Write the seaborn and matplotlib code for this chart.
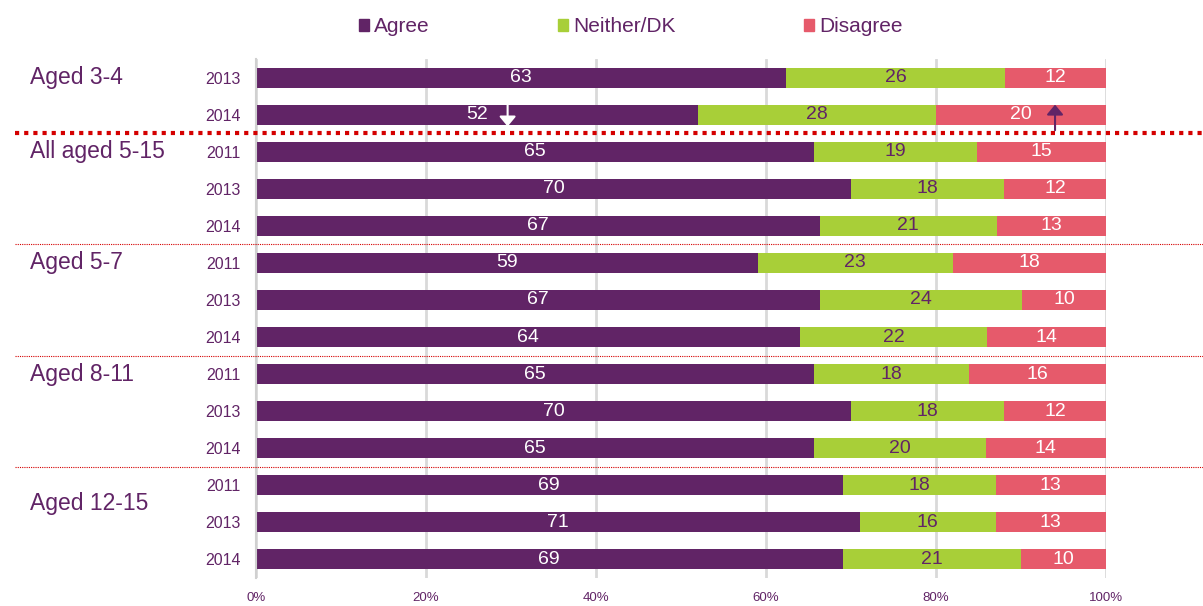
import numpy as np
import pandas as pd
import matplotlib
matplotlib.use("Agg")
from matplotlib import pyplot as plt
from matplotlib.patches import Rectangle
from matplotlib.ticker import FixedLocator
import seaborn as sns

sns.set_style("white")
plt.rcParams['font.family'] = ['Liberation Sans', 'DejaVu Sans']

PURPLE = '#612466'
GREEN = '#a8cf38'
PINK = '#e65a6b'

# data (top to bottom)
years = ['2013', '2014', '2011', '2013', '2014', '2011', '2013', '2014',
         '2011', '2013', '2014', '2011', '2013', '2014']
agree = [63, 52, 65, 70, 67, 59, 67, 64, 65, 70, 65, 69, 71, 69]
neither = [26, 28, 19, 18, 21, 23, 24, 22, 18, 18, 20, 18, 16, 21]
disagree = [12, 20, 15, 12, 13, 18, 10, 14, 16, 12, 14, 13, 13, 10]
groups = ['Aged 3-4', 'All aged 5-15', 'Aged 5-7', 'Aged 8-11', 'Aged 12-15']
group_pos = [0, 2, 5, 8, 11.5]
sep_thick = [1.5]
sep_thin = [4.5, 7.5, 10.5]
legend_labels = ['Agree', 'Neither/DK', 'Disagree']
legend_colors = [PURPLE, GREEN, PINK]

rows = [str(i) for i in range(len(years))]
a = np.array(agree, dtype=float)
n = np.array(neither, dtype=float)
d = np.array(disagree, dtype=float)
tot = a + n + d
df = pd.DataFrame({
    'row': rows,
    'agree_end': a / tot * 100,
    'neither_end': (a + n) / tot * 100,
    'total': tot / tot * 100,
})

fig = plt.figure(figsize=(12.03, 6.06), dpi=100)
ax = fig.add_axes([0.2128, 0.0462, 0.7066, 0.8564])

bw = 0.54
sns.barplot(data=df, x='total', y='row', order=rows, color=PINK, saturation=1,
            width=bw, ax=ax, orient='h', linewidth=0, zorder=2)
sns.barplot(data=df, x='neither_end', y='row', order=rows, color=GREEN, saturation=1,
            width=bw, ax=ax, orient='h', linewidth=0, zorder=2)
sns.barplot(data=df, x='agree_end', y='row', order=rows, color=PURPLE, saturation=1,
            width=bw, ax=ax, orient='h', linewidth=0, zorder=2)

ax.set_xlim(0, 100)
ax.set_ylim(13.5, -0.5)
ax.set_xlabel('')
ax.set_ylabel('')

# value labels
for i in range(len(rows)):
    ae = df['agree_end'][i]
    ne = df['neither_end'][i]
    ax.text(ae / 2, i, str(agree[i]), ha='center', va='center', color='white',
            fontsize=14, zorder=4)
    ax.text((ae + ne) / 2, i, str(neither[i]), ha='center', va='center',
            color=PURPLE, fontsize=14, zorder=4)
    ax.text((ne + 100) / 2, i, str(disagree[i]), ha='center', va='center',
            color='white', fontsize=14, zorder=4)

# axes styling
ax.set_xticks([0, 20, 40, 60, 80, 100])
ax.set_xticklabels(['0%', '20%', '40%', '60%', '80%', '100%'])
ax.grid(axis='x', color='#d9d9d9', lw=2)
ax.grid(axis='y', visible=False)
ax.set_axisbelow(True)
ax.tick_params(axis='x', length=0, pad=10, labelsize=9.5, labelcolor=PURPLE)
ax.set_yticks(range(len(rows)))
ax.set_yticklabels(years)
ax.tick_params(axis='y', which='major', length=0, pad=11, labelsize=11.5,
               labelcolor=PURPLE)
ax.yaxis.set_minor_locator(FixedLocator(np.arange(-0.5, 14, 1)))
ax.tick_params(axis='y', which='minor', length=4, width=1.5, color='#d0d0d0')
for s in ['top', 'right', 'bottom']:
    ax.spines[s].set_visible(False)
ax.spines['left'].set_color('#d0d0d0')
ax.spines['left'].set_linewidth(1.5)

# group labels
for g, p in zip(groups, group_pos):
    ax.text(-0.266, p, g, transform=ax.get_yaxis_transform(), ha='left',
            va='center', fontsize=16.5, color=PURPLE)

# separators
x0, x1 = (15 - 256) / 850, (1203 - 256) / 850
for y in sep_thick:
    ax.axhline(y, xmin=x0, xmax=x1, color='#d40000', lw=3, ls=(0, (1, 1.2)),
               clip_on=False, zorder=5)
for y in sep_thin:
    ax.axhline(y, xmin=x0, xmax=x1, color='#d40000', lw=0.8, ls=(0, (1, 1)),
               clip_on=False, zorder=5)

# change arrows (Aged 3-4, 2014)
arr = '-|>,head_length=0.6,head_width=0.5'
ax.annotate('', xy=(29.6, 1.32), xytext=(29.6, 0.73),
            arrowprops=dict(arrowstyle=arr, color='white', lw=1.5,
                            mutation_scale=10, shrinkA=0, shrinkB=0), zorder=6)
ax.annotate('', xy=(94.0, 0.73), xytext=(94.0, 1.42),
            arrowprops=dict(arrowstyle=arr, color=PURPLE, lw=1.5,
                            mutation_scale=10, shrinkA=0, shrinkB=0), zorder=6)

# legend (placed by hand, like the original)
W, H = 1203, 606
for lab, col, px in zip(legend_labels, legend_colors, [359, 558, 804]):
    fig.patches.append(Rectangle((px / W, 1 - 31 / H), 10 / W, 12 / H,
                                 color=col, transform=fig.transFigure))
    fig.text((px + 15) / W, 1 - 26 / H, lab, ha='left', va='center',
             fontsize=15, color=PURPLE)

fig.savefig('out.png', dpi=100)
